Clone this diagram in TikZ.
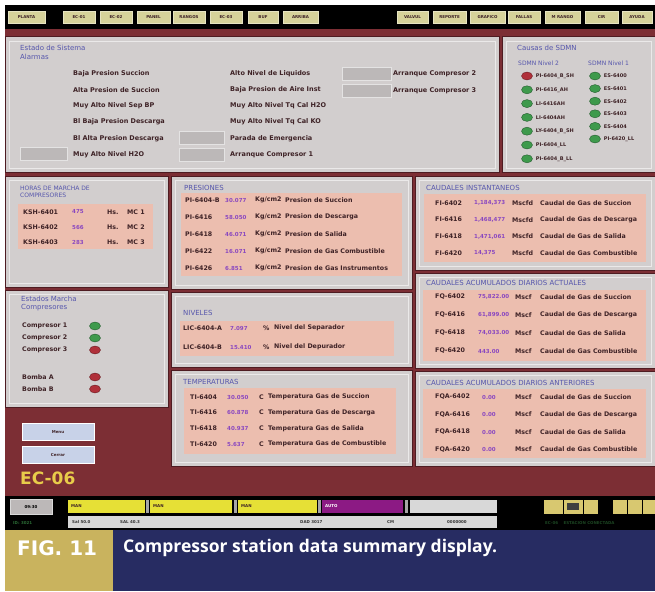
\documentclass[tikz,border=0pt]{standalone}
\usepackage{fontspec}
\setmainfont{DejaVu Sans}
\newfontfamily\capfont{Open Sans}
\usetikzlibrary{shapes.geometric,positioning}

\definecolor{hmibg}{HTML}{7C2E34}
\definecolor{hmidark}{HTML}{4E1C22}
\definecolor{hmigray}{HTML}{D2CECE}
\definecolor{hmisalmon}{HTML}{ECBEAF}
\definecolor{hmititle}{HTML}{5656AC}
\definecolor{hmitext}{HTML}{3E2226}
\definecolor{hmival}{HTML}{8A48C0}
\definecolor{hmigreen}{HTML}{3E9A4C}
\definecolor{hmired}{HTML}{B0303A}
\definecolor{hmibtn}{HTML}{D6D29A}
\definecolor{hmibox}{HTML}{BCB8B8}
\definecolor{hmilight}{HTML}{D8D8D8}
\definecolor{hminav}{HTML}{C8D2E8}
\definecolor{hmigold}{HTML}{E8CC4A}
\definecolor{hmiicon}{HTML}{D8C870}
\definecolor{hmiyellow}{HTML}{E6E036}
\definecolor{hmipurple}{HTML}{8C1A84}
\definecolor{capgold}{HTML}{C9B35E}
\definecolor{capnavy}{HTML}{272C62}

\newcommand{\rowfont}{\fontsize{6.3}{7}\selectfont\bfseries}
\newcommand{\almfont}{\fontsize{6.5}{7}\selectfont\bfseries}
\newcommand{\valfont}{\fontsize{5.5}{6}\selectfont\bfseries}
\newcommand{\sdfont}{\fontsize{5}{6}\selectfont\bfseries}
\newcommand{\hdrfont}{\fontsize{7}{7}\selectfont}
\newcommand{\tinyfont}{\fontsize{4}{4.5}\selectfont\bfseries}

\begin{document}
\begin{tikzpicture}[x=1pt,y=-1pt,
    panel/.style={fill=hmigray,draw=hmidark,line width=1pt},
    bevel/.style={draw=white!55!hmigray,line width=0.7pt},
    salmon/.style={fill=hmisalmon},
    hdr/.style={anchor=west,inner sep=0pt,text=hmititle,font=\hdrfont},
    lbl/.style={anchor=west,inner sep=0pt,text=hmitext,font=\rowfont},
    alm/.style={lbl,font=\almfont},
    val/.style={anchor=west,inner sep=0pt,text=hmival,font=\valfont},
    sdl/.style={lbl,font=\sdfont},
    stxt/.style={anchor=west,inner sep=0pt,text=hmitext,font=\tinyfont},
    lamp/.style={ellipse,minimum width=11pt,minimum height=8pt,inner sep=0pt,fill=#1,draw=#1!60!black,line width=0.4pt},
    graybox/.style={fill=hmibox,draw=white!60!hmibox,line width=0.6pt},
    tbtn/.style={rectangle,fill=hmibtn,draw=white!40!hmibtn,line width=0.8pt,minimum height=12pt,inner sep=0pt,font=\tinyfont,text=hmitext},
    navbtn/.style={rectangle,fill=hminav,draw=white,line width=0.8pt,minimum width=72pt,minimum height=17pt,inner sep=0pt,font=\tinyfont,text=hmitext}]

  \useasboundingbox (0,0) rectangle (655,591);
  \fill[white] (0,0) rectangle (655,591);

  % toolbar
  \fill[black] (5,5) rectangle (655,29);
  \foreach \xa/\xb/\tx [count=\i] in {8/45/PLANTA, 63/95/EC-01, 100/132/EC-02, 137/170/PANEL,
      173/205/RANGOS, 210/242/EC-03, 248/278/BUF, 283/318/ARRIBA, 397/428/VALVUL, 433/466/REPORTE,
      470/505/GRAFICO, 508/540/FALLAS, 545/580/M RANGO, 585/618/CIR, 622/652/AYUDA}
    \node[tbtn,minimum width={\xb-\xa}] (tb\i) at ({(\xa+\xb)/2},17) {\tx};

  % screen background and panels
  \fill[hmibg] (5,29) rectangle (655,496);
  \foreach \xa/\ya/\xb/\yb in {5/37/499/172, 502/37/655/172, 5/176/168/287, 171/176/412/289,
      415/176/655/270, 415/273/655/368, 5/290/168/407, 171/292/412/367, 171/370/412/466, 415/371/655/466}
  {
    \filldraw[panel] (\xa,\ya) rectangle (\xb,\yb);
    \draw[bevel] (\xa+4,\ya+4) rectangle (\xb-4,\yb-4);
  }
  \foreach \xa/\ya/\xb/\yb in {18/204/153/249, 181/193/402/276, 424/194/646/262, 423/290/646/361,
      423/389/646/458, 180/321/394/356, 184/388/396/454}
    \fill[salmon] (\xa,\ya) rectangle (\xb,\yb);

  % alarms
  \node[hdr] (alt1) at (20,48) {Estado de Sistema};
  \node[hdr] (alt2) at (20,57) {Alarmas};
  \foreach \tx [count=\i] in {Baja Presion Succion, Alta Presion de Succion, Muy Alto Nivel Sep BP,
      Bl Baja Presion Descarga, Bl Alta Presion Descarga, Muy Alto Nivel H2O}
    \node[alm] (ala\i) at (73,{57+16.3*\i}) {\tx};
  \foreach \tx [count=\i] in {Alto Nivel de Liquidos, Baja Presion de Aire Inst, Muy Alto Nivel Tq Cal H2O,
      Muy Alto Nivel Tq Cal KO, Parada de Emergencia, Arranque Compresor 1}
    \node[alm] (alb\i) at (230,{57+16.3*\i}) {\tx};
  \node[alm] (alc1) at (393,74) {Arranque Compresor 2};
  \node[alm] (alc2) at (393,91) {Arranque Compresor 3};
  \draw[graybox] (20,147) rectangle (67,160);
  \draw[graybox] (179,131) rectangle (224,144);
  \draw[graybox] (179,148) rectangle (224,161);
  \draw[graybox] (342,67) rectangle (391,80);
  \draw[graybox] (342,84) rectangle (391,97);

  % shutdown causes
  \node[hdr] (sdt) at (517,48) {Causas de SDMN};
  \node[hdr,font=\fontsize{6}{6}\selectfont] (sd2) at (518,63) {SDMN Nivel 2};
  \node[hdr,font=\fontsize{6}{6}\selectfont] (sd1) at (588,63) {SDMN Nivel 1};
  \foreach \tx/\cl [count=\i] in {PI-6404\_B\_SH/hmired, PI-6416\_AH/hmigreen, LI-6416AH/hmigreen,
      LI-6404AH/hmigreen, LY-6404\_B\_SH/hmigreen, PI-6404\_LL/hmigreen, PI-6404\_B\_LL/hmigreen}
  {
    \node[lamp=\cl] (sa\i) at (527,{62.2+13.8*\i}) {};
    \node[sdl,right=3pt of sa\i] (sal\i) {\tx};
  }
  \foreach \tx [count=\i] in {ES-6400, ES-6401, ES-6402, ES-6403, ES-6404, PI-6420\_LL}
  {
    \node[lamp=hmigreen] (sb\i) at (595,{63.4+12.6*\i}) {};
    \node[sdl,right=3pt of sb\i] (sbl\i) {\tx};
  }

  % running hours
  \node[hdr,font=\fontsize{6}{6}\selectfont] (hmt1) at (20,188) {HORAS DE MARCHA DE};
  \node[hdr,font=\fontsize{6}{6}\selectfont] (hmt2) at (20,195) {COMPRESORES};
  \foreach \tg/\vl [count=\i] in {KSH-6401/475, KSH-6402/566, KSH-6403/283}
  {
    \node[lbl] (hrg\i) at (23,{197+15*\i}) {\tg};
    \node[val] (hrv\i) at (72,{197+15*\i}) {\vl};
    \node[lbl] (hru\i) at (107,{197+15*\i}) {Hs.};
    \node[lbl] (hrm\i) at (127,{197+15*\i}) {MC \i};
  }

  % pressures
  \node[hdr] (prt) at (184,188) {PRESIONES};
  \foreach \tg/\vl/\ds [count=\i] in {PI-6404-B/30.077/Presion de Succion, PI-6416/58.050/Presion de Descarga,
      PI-6418/46.071/Presion de Salida, PI-6422/16.071/Presion de Gas Combustible,
      PI-6426/6.851/Presion de Gas Instrumentos}
  {
    \node[lbl] (prg\i) at (185,{183+17*\i}) {\tg};
    \node[val] (prv\i) at (225,{183+17*\i}) {\vl};
    \node[lbl] (pru\i) at (255,{183+17*\i}) {Kg/cm2};
    \node[lbl] (prd\i) at (285,{183+17*\i}) {\ds};
  }

  % instant flows
  \node[hdr] (cit) at (426,188) {CAUDALES INSTANTANEOS};
  \foreach \tg/\vl/\ds [count=\i] in {FI-6402/{1,184,373}/Caudal de Gas de Succion,
      FI-6416/{1,468,477}/Caudal de Gas de Descarga, FI-6418/{1,471,061}/Caudal de Gas de Salida,
      FI-6420/{14,375}/Caudal de Gas Combustible}
  {
    \node[lbl] (cig\i) at (435,{186.3+16.7*\i}) {\tg};
    \node[val] (civ\i) at (474,{186.3+16.7*\i}) {\vl};
    \node[lbl] (ciu\i) at (512,{186.3+16.7*\i}) {Mscfd};
    \node[lbl] (cid\i) at (540,{186.3+16.7*\i}) {\ds};
  }

  % daily totals, today
  \node[hdr] (cat) at (426,283) {CAUDALES ACUMULADOS DIARIOS ACTUALES};
  \foreach \tg/\vl/\ds [count=\i] in {FQ-6402/{75,822.00}/Caudal de Gas de Succion,
      FQ-6416/{61,899.00}/Caudal de Gas de Descarga, FQ-6418/{74,033.00}/Caudal de Gas de Salida,
      FQ-6420/443.00/Caudal de Gas Combustible}
  {
    \node[lbl] (cag\i) at (435,{279+18*\i}) {\tg};
    \node[val] (cav\i) at (478,{279+18*\i}) {\vl};
    \node[lbl] (cau\i) at (515,{279+18*\i}) {Mscf};
    \node[lbl] (cad\i) at (540,{279+18*\i}) {\ds};
  }

  % daily totals, yesterday
  \node[hdr] (cnt) at (426,383) {CAUDALES ACUMULADOS DIARIOS ANTERIORES};
  \foreach \tg/\ds [count=\i] in {FQA-6402/Caudal de Gas de Succion, FQA-6416/Caudal de Gas de Descarga,
      FQA-6418/Caudal de Gas de Salida, FQA-6420/Caudal de Gas Combustible}
  {
    \node[lbl] (cng\i) at (435,{379.5+17.5*\i}) {\tg};
    \node[val] (cnv\i) at (482,{379.5+17.5*\i}) {0.00};
    \node[lbl] (cnu\i) at (515,{379.5+17.5*\i}) {Mscf};
    \node[lbl] (cnd\i) at (540,{379.5+17.5*\i}) {\ds};
  }

  % levels
  \node[hdr] (nvt) at (183,313) {NIVELES};
  \foreach \tg/\vl/\ds [count=\i] in {LIC-6404-A/7.097/Nivel del Separador, LIC-6404-B/15.410/Nivel del Depurador}
  {
    \node[lbl] (nvg\i) at (183,{309+19*\i}) {\tg};
    \node[val] (nvv\i) at (230,{309+19*\i}) {\vl};
    \node[lbl] (nvu\i) at (263,{309+19*\i}) {\%};
    \node[lbl] (nvd\i) at (274,{309+19*\i}) {\ds};
  }

  % temperatures
  \node[hdr] (tpt) at (183,382) {TEMPERATURAS};
  \foreach \tg/\vl/\ds [count=\i] in {TI-6404/30.050/Temperatura Gas de Succion,
      TI-6416/60.878/Temperatura Gas de Descarga, TI-6418/40.937/Temperatura Gas de Salida,
      TI-6420/5.637/Temperatura Gas de Combustible}
  {
    \node[lbl] (tpg\i) at (190,{381.3+15.7*\i}) {\tg};
    \node[val] (tpv\i) at (227,{381.3+15.7*\i}) {\vl};
    \node[lbl] (tpu\i) at (259,{381.3+15.7*\i}) {C};
    \node[lbl] (tpd\i) at (268,{381.3+15.7*\i}) {\ds};
  }

  % running states
  \node[hdr] (emt1) at (21,299) {Estados Marcha};
  \node[hdr] (emt2) at (21,308) {Compresores};
  \foreach \tx/\yy/\cl [count=\i] in {Compresor 1/326/hmigreen, Compresor 2/338/hmigreen,
      Compresor 3/350/hmired, Bomba A/377/hmired, Bomba B/389/hmired}
  {
    \node[lbl] (eml\i) at (22,\yy) {\tx};
    \node[lamp=\cl] (emk\i) at (95,\yy) {};
  }

  % navigation
  \node[navbtn] (menu) at (58,432) {Menu};
  \node[navbtn,below=5pt of menu] (cerrar) {Cerrar};
  \node[anchor=west,inner sep=0pt,text=hmigold,font=\fontsize{17}{17}\selectfont\bfseries] (ecn) at (20,478) {EC-06};

  % status bar
  \fill[black] (5,496) rectangle (655,530);
  \node[rectangle,fill=hmibox,draw=white!70!gray,minimum width=42pt,minimum height=15pt,inner sep=0pt,font=\tinyfont] (clk) at (31,507) {09:30};
  \foreach \xa/\xb/\cl/\tc/\tx [count=\i] in {68/145/hmiyellow/hmitext/MAN, 150/232/hmiyellow/hmitext/MAN,
      238/317/hmiyellow/hmitext/MAN, 322/403/hmipurple/white/AUTO, 410/497/hmilight/hmitext/{}}
  {
    \fill[\cl] (\xa,500) rectangle (\xb,513);
    \node[stxt,text=\tc] (sf\i) at (\xa+3,506.5) {\tx};
  }
  \foreach \xs in {147.5,235,319.5,406.5}
    \fill[gray!70] (\xs-1.5,500) rectangle (\xs+1.5,513);
  \fill[hmilight] (68,516) rectangle (497,528);
  \foreach \xs/\tx [count=\i] in {72/Sal 50.0, 120/SAL 40.3, 300/DAD 3017, 387/CM, 447/0000000}
    \node[stxt,text=gray!40!black] (sg\i) at (\xs,522) {\tx};
  \node[stxt,text=hmigreen!70!black] (idn) at (13,523) {ID: 3021};
  \foreach \xa/\xb [count=\i] in {543/563, 563/583, 583/598, 612/627, 627/642, 642/655}
    \filldraw[fill=hmiicon,draw=black,line width=0.5pt] (\xa,499) rectangle (\xb,514);
  \fill[black!75] (567,503) rectangle (579,510);
  \node[stxt,text=hmigreen!45!black] (rst) at (545,523) {EC-06 \quad ESTACION CONECTADA};

  % caption
  \fill[capgold] (5,530) rectangle (113,591);
  \fill[capnavy] (113,530) rectangle (655,591);
  \node[anchor=west,inner sep=0pt,text=white,font=\fontsize{20}{20}\selectfont\bfseries] (fig) at (17,548) {FIG. 11};
  \node[anchor=west,inner sep=0pt,text=white,font=\capfont\bfseries\fontsize{17.5}{18}\selectfont] (cap) at (123,548) {Compressor station data summary display.};
\end{tikzpicture}
\end{document}
